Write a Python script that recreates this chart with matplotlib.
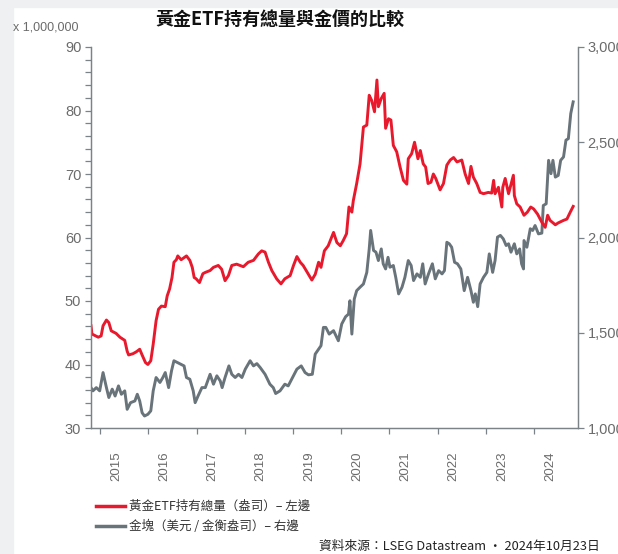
import matplotlib
matplotlib.use("Agg")
import matplotlib.pyplot as plt
from matplotlib.ticker import FixedLocator, FuncFormatter, MultipleLocator
from matplotlib.patches import Rectangle

plt.rcParams['font.family'] = ['Liberation Sans', 'DejaVu Sans']
CJK = ['Noto Sans CJK TC', 'DejaVu Sans']

# ---- data (decimal years) ----
etf_years = [2014.81, 2014.83, 2014.96, 2015.02, 2015.06, 2015.13, 2015.18, 2015.23, 2015.33, 2015.41,
             2015.51, 2015.56, 2015.59, 2015.68, 2015.75, 2015.82, 2015.87, 2015.94, 2015.99, 2016.05,
             2016.10, 2016.16, 2016.21, 2016.27, 2016.35, 2016.39, 2016.44, 2016.49, 2016.53, 2016.58,
             2016.61, 2016.68, 2016.79, 2016.86, 2016.91, 2016.95, 2016.99, 2017.06, 2017.13, 2017.18,
             2017.28, 2017.35, 2017.45, 2017.52, 2017.59, 2017.66, 2017.73, 2017.83, 2017.97, 2018.07,
             2018.18, 2018.28, 2018.35, 2018.42, 2018.49, 2018.56, 2018.66, 2018.75, 2018.83, 2018.94,
             2019.01, 2019.08, 2019.15, 2019.21, 2019.32, 2019.39, 2019.46, 2019.53, 2019.58, 2019.65,
             2019.73, 2019.84, 2019.91, 2019.98, 2020.04, 2020.11, 2020.16, 2020.22, 2020.25, 2020.32,
             2020.39, 2020.46, 2020.53, 2020.58, 2020.63, 2020.69, 2020.74, 2020.77, 2020.83, 2020.89,
             2020.92, 2020.98, 2021.03, 2021.08, 2021.15, 2021.22, 2021.29, 2021.36, 2021.39, 2021.46,
             2021.52, 2021.59, 2021.64, 2021.70, 2021.75, 2021.80, 2021.86, 2021.91, 2021.96, 2022.05,
             2022.12, 2022.19, 2022.26, 2022.33, 2022.40, 2022.50, 2022.57, 2022.64, 2022.69, 2022.74,
             2022.81, 2022.88, 2022.95, 2023.05, 2023.12, 2023.16, 2023.19, 2023.26, 2023.33, 2023.35,
             2023.40, 2023.47, 2023.57, 2023.59, 2023.64, 2023.71, 2023.79, 2023.86, 2023.93, 2023.99,
             2024.07, 2024.16, 2024.23, 2024.28, 2024.33, 2024.44, 2024.50, 2024.61, 2024.68, 2024.75,
             2024.81]
etf_holdings = [46.1, 44.8, 44.3, 44.5, 46.1, 47.0, 46.6, 45.3, 44.9, 44.3,
                43.8, 42.1, 41.5, 41.7, 42.0, 42.4, 41.5, 40.3, 40.0, 40.6,
                43.2, 46.9, 48.7, 49.2, 49.1, 50.8, 51.9, 53.7, 56.1, 56.5,
                57.1, 56.5, 57.1, 56.4, 55.3, 53.7, 53.5, 52.9, 54.3, 54.5,
                54.8, 55.3, 55.6, 55.0, 53.2, 54.0, 55.6, 55.8, 55.4, 56.1,
                56.4, 57.4, 57.9, 57.7, 56.1, 54.8, 53.5, 52.7, 53.5, 54.0,
                55.6, 57.0, 56.1, 55.6, 54.2, 53.3, 54.2, 56.1, 55.3, 57.9,
                58.7, 60.8, 59.2, 58.7, 59.5, 60.6, 64.8, 64.0, 65.8, 68.5,
                71.6, 77.4, 77.7, 82.4, 81.6, 79.8, 84.8, 80.6, 81.9, 82.7,
                77.2, 78.7, 78.5, 74.5, 73.5, 71.1, 69.0, 68.4, 72.4, 73.2,
                75.0, 72.4, 73.7, 71.6, 71.1, 68.5, 68.7, 70.0, 69.3, 67.5,
                68.5, 71.4, 72.2, 72.6, 71.9, 72.2, 70.0, 68.5, 71.2, 69.5,
                68.5, 67.1, 66.9, 67.1, 67.0, 69.0, 66.9, 67.9, 64.8, 67.9,
                69.3, 66.9, 69.8, 66.6, 65.3, 64.8, 63.5, 64.0, 64.8, 64.5,
                63.7, 62.4, 61.6, 63.5, 62.7, 62.0, 62.3, 62.7, 62.9, 64.0,
                64.9]

gold_years = [2014.81, 2014.85, 2014.92, 2014.99, 2015.06, 2015.13, 2015.18, 2015.25, 2015.31, 2015.38,
              2015.44, 2015.51, 2015.56, 2015.63, 2015.72, 2015.77, 2015.82, 2015.87, 2015.92, 2015.99,
              2016.05, 2016.10, 2016.16, 2016.24, 2016.30, 2016.35, 2016.42, 2016.48, 2016.53, 2016.60,
              2016.67, 2016.74, 2016.79, 2016.86, 2016.93, 2016.97, 2017.03, 2017.11, 2017.18, 2017.28,
              2017.35, 2017.42, 2017.49, 2017.53, 2017.59, 2017.67, 2017.73, 2017.80, 2017.87, 2017.94,
              2018.01, 2018.11, 2018.18, 2018.25, 2018.32, 2018.42, 2018.52, 2018.59, 2018.64, 2018.73,
              2018.83, 2018.90, 2018.99, 2019.08, 2019.17, 2019.25, 2019.32, 2019.40, 2019.46, 2019.53,
              2019.58, 2019.63, 2019.68, 2019.75, 2019.84, 2019.94, 2020.01, 2020.09, 2020.15, 2020.18,
              2020.22, 2020.27, 2020.32, 2020.39, 2020.46, 2020.53, 2020.58, 2020.61, 2020.67, 2020.72,
              2020.77, 2020.83, 2020.87, 2020.92, 2020.97, 2021.01, 2021.08, 2021.13, 2021.19, 2021.26,
              2021.32, 2021.39, 2021.45, 2021.50, 2021.57, 2021.64, 2021.69, 2021.74, 2021.81, 2021.89,
              2021.95, 2022.02, 2022.09, 2022.14, 2022.19, 2022.24, 2022.29, 2022.35, 2022.41, 2022.48,
              2022.55, 2022.62, 2022.69, 2022.74, 2022.78, 2022.83, 2022.88, 2022.95, 2023.02, 2023.07,
              2023.14, 2023.19, 2023.24, 2023.30, 2023.36, 2023.42, 2023.47, 2023.52, 2023.59, 2023.64,
              2023.70, 2023.74, 2023.78, 2023.79, 2023.85, 2023.92, 2023.97, 2024.02, 2024.09, 2024.16,
              2024.19, 2024.25, 2024.30, 2024.35, 2024.39, 2024.44, 2024.50, 2024.55, 2024.61, 2024.66,
              2024.71, 2024.76, 2024.81]
gold_price = [1212, 1195, 1212, 1195, 1291, 1212, 1160, 1204, 1168, 1221,
              1177, 1195, 1098, 1133, 1142, 1177, 1142, 1080, 1063, 1072,
              1090, 1195, 1265, 1239, 1265, 1291, 1212, 1300, 1353, 1344,
              1335, 1326, 1265, 1256, 1195, 1133, 1168, 1212, 1212, 1282,
              1230, 1274, 1247, 1212, 1265, 1326, 1282, 1265, 1282, 1265,
              1309, 1353, 1326, 1338, 1317, 1282, 1230, 1212, 1181, 1195,
              1230, 1221, 1265, 1309, 1326, 1291, 1279, 1282, 1388, 1414,
              1432, 1528, 1528, 1493, 1511, 1458, 1546, 1584, 1598, 1668,
              1493, 1677, 1721, 1739, 1756, 1817, 1940, 2037, 1932, 1923,
              1879, 1940, 1862, 1835, 1896, 1844, 1853, 1791, 1704, 1739,
              1791, 1879, 1853, 1774, 1809, 1791, 1862, 1756, 1809, 1862,
              1783, 1826, 1809, 1826, 1975, 1967, 1949, 1870, 1862, 1835,
              1721, 1791, 1721, 1660, 1704, 1637, 1756, 1791, 1817, 1914,
              1817, 1879, 2002, 2011, 1993, 1958, 1967, 1923, 1967, 1914,
              1940, 1862, 1835, 1984, 1949, 2046, 2037, 2063, 2019, 2023,
              2168, 2177, 2405, 2335, 2405, 2317, 2326, 2405, 2423, 2511,
              2519, 2651, 2712]

year_ticks = [2015, 2016, 2017, 2018, 2019, 2020, 2021, 2022, 2023, 2024]
year_labels = ['2015', '2016', '2017', '2018', '2019', '2020', '2021', '2022', '2023', '2024']

title = '黃金ETF持有總量與金價的比較'
etf_label = '黃金ETF持有總量（盎司）– 左邊'
gold_label = '金塊（美元 / 金衡盎司）– 右邊'
source = '資料來源：LSEG Datastream · 2024年10月23日'

RED = '#e8192c'
GREY = '#68737a'
TXT = '#6b6b6b'
SPINE = '#7b8389'

W, H = 618, 554
fig = plt.figure(figsize=(W / 100, H / 100), dpi=100)
fig.patch.set_facecolor('white')
fig.patches.append(Rectangle((0, 1 - 7 / H), 1, 7 / H, transform=fig.transFigure, color='#eff0f2', zorder=0))
fig.patches.append(Rectangle((0, 0), 13 / W, 1, transform=fig.transFigure, color='#eff0f2', zorder=0))

L, R, T, B = 91, 578, 47, 428
ax = fig.add_axes([L / W, 1 - B / H, (R - L) / W, (B - T) / H])
ax2 = ax.twinx()
ax.set_zorder(ax2.get_zorder() + 1)
ax.patch.set_visible(False)
ax2.set_facecolor('#e6e6e6')

l2, = ax2.plot(gold_years, gold_price, color=GREY, lw=2.1, solid_joinstyle='round')
l1, = ax.plot(etf_years, etf_holdings, color=RED, lw=2.1, solid_joinstyle='round')

ax.set_xlim(2014.81, 2024.91)
ax.set_ylim(30, 90)
ax2.set_ylim(1000, 3000)

ax.yaxis.set_major_locator(MultipleLocator(10))
ax.yaxis.set_minor_locator(MultipleLocator(2))
ax2.yaxis.set_major_locator(MultipleLocator(500))
ax2.yaxis.set_major_formatter(FuncFormatter(lambda v, p: f'{int(v):,}'))

ax.xaxis.set_major_locator(FixedLocator(year_ticks))
ax.xaxis.set_major_formatter(FuncFormatter(lambda v, p: ''))
ax.xaxis.set_minor_locator(FixedLocator([y + 0.33 for y in year_ticks]))
ax.xaxis.set_minor_formatter(FuncFormatter(lambda v, p: year_labels[int(round(v - 0.33)) - 2015]))

for a in (ax, ax2):
    for s in a.spines.values():
        s.set_color(SPINE)
        s.set_linewidth(0.9)
    a.spines['top'].set_visible(False)

ax.tick_params(axis='y', which='both', direction='out', length=4, width=0.9, color=SPINE,
               labelsize=10.5, labelcolor=TXT, pad=3)
ax2.tick_params(axis='y', which='both', direction='out', length=4, width=0.9, color=SPINE,
                labelsize=10.5, labelcolor=TXT, pad=3)
ax.tick_params(axis='x', which='major', direction='out', length=4, width=0.9, color=SPINE)
ax.tick_params(axis='x', which='minor', length=0, pad=17, labelsize=9.5, labelcolor=TXT,
               labelrotation=90)
for lab in ax.xaxis.get_minorticklabels():
    lab.set_family(['Liberation Sans Narrow', 'Liberation Sans'])
    lab.set_verticalalignment('top')

fig.text(13 / W, 1 - 28 / H, 'x 1,000,000', fontsize=9, color=TXT, va='center', ha='left')
fig.text(280 / W, 1 - 19 / H, title, fontsize=13, fontweight='bold', family=CJK,
         ha='center', va='center', color='#111111')

leg = fig.legend([l1, l2], [etf_label, gold_label], loc='upper left',
                 bbox_to_anchor=(96 / W, 1 - 500 / H), frameon=False,
                 prop={'family': CJK, 'size': 9}, handlelength=2.3, handletextpad=0.35,
                 labelspacing=0.55, borderpad=0, borderaxespad=0)
for line in leg.get_lines():
    line.set_linewidth(2.5)
for t in leg.get_texts():
    t.set_color('#333333')

fig.text(600 / W, 1 - 546 / H, source, fontsize=9.2, family=CJK, ha='right', va='center',
         color='#222222')

fig.savefig('out.png', dpi=100)
